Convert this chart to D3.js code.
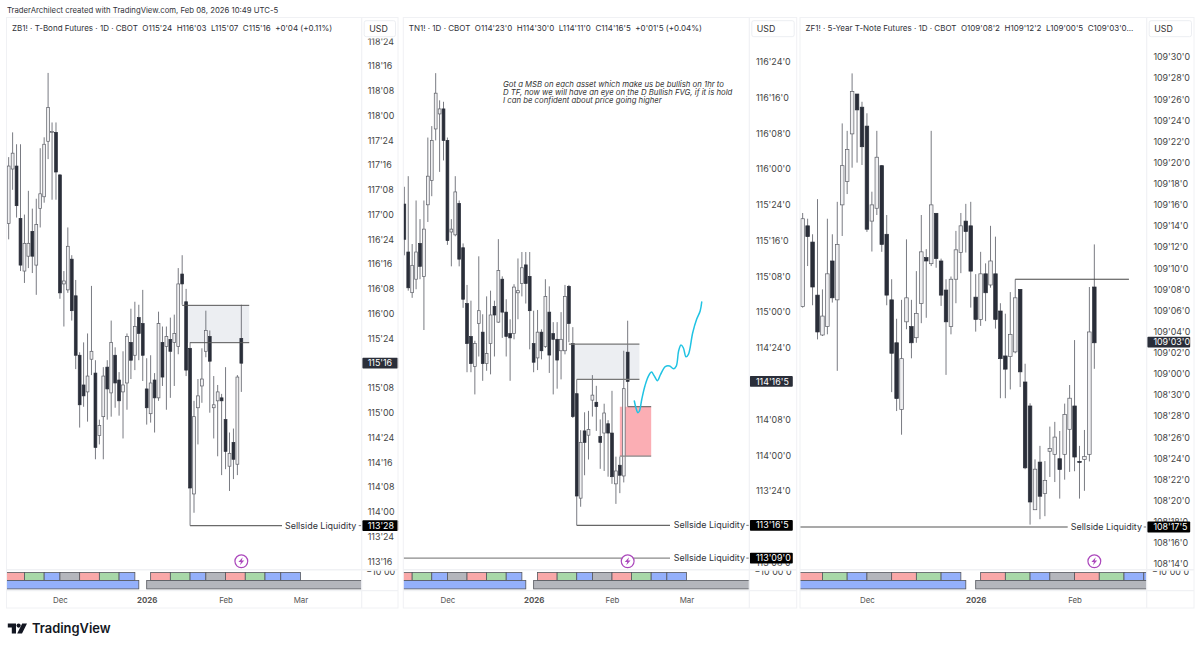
<!DOCTYPE html>
<html>
<head>
<meta charset="utf-8">
<script src="https://cdn.jsdelivr.net/npm/d3@7"></script>
<style>
  html, body { margin: 0; padding: 0; background: #fff; }
  svg { display: block; font-family: Inter, "Noto Sans", sans-serif; }
</style>
</head>
<body>
<svg id="chart" width="1200" height="648"></svg>
<script>
// candles are [open, high, low, close], decimal points
const zbBars = [
  [116.91,117.58,116.75,117.49],[117.46,117.83,117.25,117.62],[117.49,117.71,116.97,117.09],[116.96,117.71,116.43,116.49],
  [116.43,117.00,116.31,116.71],[116.58,117.24,116.46,116.71],[116.83,117.06,116.41,116.58],[116.49,117.16,116.19,116.90],
  [117.06,117.67,116.87,117.21],[117.18,117.78,117.12,117.71],[117.74,118.43,117.56,118.08],[117.83,117.93,117.15,117.84],
  [117.83,117.93,117.15,117.43],[117.40,117.41,116.15,116.21],[116.30,116.43,115.87,116.33],[116.24,116.87,116.21,116.68],
  [116.55,116.59,115.93,116.03],[116.18,116.34,115.44,115.58],[115.58,115.61,114.85,115.08],[115.28,115.71,115.06,115.17],
  [115.21,115.80,114.91,115.37],[115.54,116.28,115.38,115.62],[115.40,115.53,114.53,114.65],[114.77,114.93,114.68,114.87],
  [114.96,115.46,114.53,115.37],[115.46,115.53,114.93,115.24],[115.20,115.93,114.96,115.71],[115.58,115.66,115.05,115.30],
  [115.33,115.41,114.97,115.12],[115.21,115.62,114.74,115.28],[115.30,115.80,115.03,115.77],[115.71,116.05,115.34,115.53],
  [115.58,116.12,115.43,115.87],[115.96,116.09,115.53,115.80],[115.90,116.24,115.32,115.58],[115.24,115.55,114.88,115.05],
  [114.99,115.58,114.90,115.30],[115.33,115.40,114.80,115.15],[115.15,116.02,115.12,115.90],[115.71,115.87,115.27,115.36],
  [115.67,115.87,115.03,115.77],[115.74,115.96,115.15,115.62],[115.71,115.99,115.27,115.80],[115.67,116.46,115.59,116.30],
  [116.40,116.59,116.09,116.30],[116.12,116.25,115.37,115.43],[115.65,115.71,113.86,114.24],[114.18,115.12,113.99,114.96],
  [115.05,115.34,114.68,115.17],[115.27,115.65,115.10,115.34],[115.62,116.03,115.56,115.83],[115.77,115.83,115.00,115.52],
  [115.05,115.37,114.74,115.08],[115.12,115.28,114.56,115.21],[115.15,115.19,114.37,115.12],[114.93,115.46,114.43,114.61],
  [114.46,114.80,114.21,114.59],[114.70,114.84,114.33,114.53],[114.48,115.38,114.37,115.36],[115.75,116.09,115.21,115.50]
];
const tnBars = [
  [115.755,115.876,115.397,115.509],[115.42,115.95,115.15,115.17],[115.136,115.476,115.10,115.327],[115.23,115.78,115.16,115.42],
  [115.48,115.65,115.23,115.32],[115.25,115.78,114.875,115.58],[115.75,116.22,115.63,115.95],[115.92,116.30,115.81,116.20],
  [116.28,116.67,116.20,116.53],[116.385,116.48,115.98,116.42],[116.42,116.47,116.06,116.20],[116.20,116.22,115.47,115.50],
  [115.56,115.65,115.32,115.58],[115.54,115.95,115.53,115.84],[115.76,115.78,115.32,115.37],[115.45,115.48,115.03,115.09],
  [115.06,115.19,114.58,114.78],[114.83,115.08,114.58,114.64],[114.62,114.80,114.425,114.78],[114.92,115.39,114.69,115.01],
  [114.86,114.985,114.52,114.64],[114.64,115.11,114.59,114.71],[114.78,115.15,114.565,114.98],[115.04,115.08,114.69,114.98],
  [114.93,115.51,114.925,115.29],[115.23,115.25,114.82,115.00],[115.00,115.09,114.69,114.83],[114.85,114.95,114.52,114.82],
  [114.85,115.195,114.81,115.175],[115.135,115.375,114.95,115.15],[115.20,115.42,115.11,115.31],[115.33,115.42,115.06,115.20],
  [115.25,115.42,114.74,115.01],[114.78,115.01,114.58,114.65],[114.68,115.015,114.595,114.86],[114.86,114.88,114.67,114.73],
  [114.76,115.23,114.75,115.11],[115.00,115.18,114.575,114.70],[114.85,114.93,114.425,114.81],[114.81,114.93,114.465,114.665],
  [114.73,115.00,114.53,114.81],[114.73,115.19,114.705,115.11],[115.18,115.19,114.79,114.92],[114.78,114.895,114.26,114.27],
  [114.43,114.53,113.51,113.715],[113.70,114.175,113.64,114.09],[114.17,114.30,113.86,114.09],[114.14,114.31,113.97,114.18],
  [114.385,114.56,114.27,114.42],[114.37,114.485,114.17,114.34],[114.13,114.25,113.905,114.09],[114.155,114.36,113.89,114.295],
  [114.22,114.245,113.85,114.155],[114.155,114.45,113.80,113.85],[113.80,113.99,113.66,113.89],[113.93,113.99,113.735,113.86],
  [113.855,114.73,113.81,114.465],[114.72,114.94,114.34,114.516]
];
const zfBars = [
  [109.199,109.476,109.196,109.459],[109.438,109.459,109.319,109.406],[109.390,109.413,109.203,109.257],[109.233,109.517,109.102,109.124],
  [109.115,109.250,109.112,109.171],[109.140,109.459,109.117,109.296],[109.334,109.413,109.211,109.225],[109.219,109.509,109.009,109.383],
  [109.500,109.741,109.408,109.616],[109.569,109.719,109.532,109.664],[109.710,109.889,109.610,109.835],[109.828,109.828,109.625,109.781],
  [109.789,109.805,109.618,109.672],[109.733,109.771,109.420,109.428],[109.452,109.539,109.362,109.500],[109.490,109.719,109.470,109.641],
  [109.616,109.618,109.361,109.383],[109.413,109.470,109.203,109.233],[109.219,109.280,108.946,109.061],[109.092,109.163,108.890,108.927],
  [108.895,109.219,108.820,109.045],[109.154,109.398,109.132,109.225],[109.140,109.219,109.046,109.092],[109.107,109.304,109.092,109.179],
  [109.208,109.470,109.150,109.361],[109.344,109.369,109.166,109.334],[109.326,109.719,109.319,109.500],[109.475,109.476,109.314,109.341],
  [109.334,109.341,109.201,109.233],[109.248,109.280,108.997,109.154],[109.140,109.288,109.117,109.280],[109.280,109.423,109.209,109.367],
  [109.359,109.476,109.298,109.438],[109.452,109.503,109.359,109.421],[109.438,109.509,109.196,109.304],[109.227,109.295,109.125,109.161],
  [109.161,109.361,109.142,109.296],[109.296,109.327,109.156,109.240],[109.263,109.438,109.255,109.334],[109.296,109.406,109.134,109.161],
  [109.186,109.209,108.928,109.045],[109.053,109.178,108.928,109.014],[109.051,109.242,108.954,109.117],[109.065,109.280,109.061,109.225],
  [109.250,109.251,108.961,109.006],[108.976,109.030,108.718,108.722],[108.905,108.913,108.554,108.621],[108.598,108.747,108.598,108.718],
  [108.739,108.787,108.570,108.638],[108.646,108.742,108.579,108.685],[108.771,108.844,108.695,108.779],[108.762,108.858,108.680,108.813],
  [108.749,108.831,108.631,108.717],[108.762,108.912,108.687,108.880],[108.836,108.967,108.710,108.928],[108.905,109.100,108.712,108.754],
  [108.741,108.787,108.631,108.738],[108.747,108.834,108.654,108.756],[108.762,109.257,108.741,109.124],[109.257,109.383,109.015,109.092]
];

// price ticks; the ones fully under a price tag are left out
const zbTicks = ["118'24","118'16","118'08","118'00","117'24","117'16","117'08","117'00","116'24","116'16","116'08","116'00",
  "115'24","115'08","115'00","114'24","114'16","114'08","114'00","113'24","113'16"];
const tnTicks = ["116'24'0","116'16'0","116'08'0","116'00'0","115'24'0","115'16'0","115'08'0","115'00'0","114'24'0",
  "114'08'0","114'00'0","113'24'0","113'08'0"];
const zfTicks = ["109'30'0","109'28'0","109'26'0","109'24'0","109'22'0","109'20'0","109'18'0","109'16'0","109'14'0","109'12'0",
  "109'10'0","109'08'0","109'06'0","109'04'0","109'02'0","109'00'0","108'30'0","108'28'0","108'26'0","108'24'0","108'22'0",
  "108'20'0","108'18'0","108'16'0","108'14'0"];

// time axis, bar index of each label (TN1! runs two bars later than the others)
const zbMonths = [["Dec",13],["2026",35],["Feb",55],["Mar",74]];
const tnMonths = [["Dec",11],["2026",33],["Feb",53],["Mar",72]];
const zfMonths = [["Dec",13],["2026",35],["Feb",55]];

// session boxes in the lower pane, bar index of each edge
const weekEdges = [-20,4,9,13,18,23,28,32,null,36,41,46,50,55,60,65,69,74];
const weekColors = ["#f9a8a8","#a8d8a8","#94b0fb","#b4b6bc"];
const weekStart = [0,1,2,3,0,1,2,null,3,0,1,2,3,0,1,2,2];
const yearEdges = [[-20,33,"#94b0fb"],[35,200,"#b4b6bc"]];

// hand drawn projection on TN1!, [bar index, price]
const tnPath = [[58.7,114.379],[59.1,114.332],[59.6,114.297],[60,114.309],[60.6,114.391],[61.4,114.484],[62.3,114.553],[63.1,114.581],
  [63.7,114.558],[64.6,114.521],[65.4,114.565],[66.6,114.619],[67.7,114.623],[68.7,114.604],[69.4,114.623],[70,114.728],[70.6,114.77],
  [71.2,114.751],[71.9,114.688],[72.5,114.705],[73.6,114.856],[74.6,114.95],[75.5,115.008],[75.9,115.071]];

const note = ["Got a MSB on each asset which make us be bullish on 1hr to",
  "D TF, now we will have an eye on the D Bullish FVG, if it is hold",
  "I can be confident about price going higher"];

const svg = d3.select("#chart");
const INK = "#2a2e39", EDGE = "#f0f1f4", WICK = "#6a6c74";

function parsePrice(s) {
  const p = s.split("'");
  return +p[0] + (+p[1] + (p[2] ? +p[2] / 10 : 0)) / 32;
}

function panel(o) {
  const g = svg.append("g");
  const x = d3.scaleLinear().domain([0, o.bars.length - 1]).range(o.xr);
  const y = d3.scaleLinear().domain(o.yd).range(o.yr);
  const step = (o.xr[1] - o.xr[0]) / (o.bars.length - 1);
  const bw = step * 0.72;

  const clipId = "clip" + o.id;
  svg.append("clipPath").attr("id", clipId).append("rect")
    .attr("x", o.left).attr("y", 18).attr("width", o.axis - o.left).attr("height", 551);
  const subId = "sub" + o.id;
  svg.append("clipPath").attr("id", subId).append("rect")
    .attr("x", o.left).attr("y", 570).attr("width", o.axis - o.left).attr("height", 20);
  const axId = "ax" + o.id;
  svg.append("clipPath").attr("id", axId).append("rect")
    .attr("x", o.axis).attr("y", 38.5).attr("width", o.right - o.axis).attr("height", 531);
  const axSubId = "axsub" + o.id;
  svg.append("clipPath").attr("id", axSubId).append("rect")
    .attr("x", o.axis).attr("y", 570.5).attr("width", o.right - o.axis).attr("height", 19);

  // zones go under the candles
  const plot = g.append("g").attr("clip-path", `url(#${clipId})`);
  plot.selectAll("rect.zone").data(o.zones || []).join("rect")
    .attr("class", "zone")
    .attr("x", d => x(d.from)).attr("width", d => x(d.to) - x(d.from))
    .attr("y", d => y(d.top)).attr("height", d => y(d.bottom) - y(d.top))
    .attr("fill", d => d.fill);

  plot.selectAll("line.wick").data(o.bars).join("line")
    .attr("class", "wick")
    .attr("x1", (d, i) => x(i)).attr("x2", (d, i) => x(i))
    .attr("y1", d => y(d[1])).attr("y2", d => y(d[2]))
    .attr("stroke", WICK).attr("stroke-width", 0.9);

  plot.selectAll("rect.body").data(o.bars).join("rect")
    .attr("class", "body")
    .attr("x", (d, i) => x(i) - bw / 2).attr("width", bw)
    .attr("y", d => y(Math.max(d[0], d[3])))
    .attr("height", d => Math.max(0.8, Math.abs(y(d[0]) - y(d[3]))))
    .attr("fill", d => d[3] < d[0] ? INK : "#f0f0f2")
    .attr("stroke", d => d[3] < d[0] ? INK : "#5c5e66")
    .attr("stroke-width", 0.7);

  plot.selectAll("line.level").data(o.levels || []).join("line")
    .attr("class", "level")
    .attr("x1", d => d.x1 != null ? d.x1 : x(d.from)).attr("x2", d => d.x2 != null ? d.x2 : x(d.to))
    .attr("y1", d => y(d.p)).attr("y2", d => y(d.p))
    .attr("stroke", d => d.c || "#555").attr("stroke-width", d => d.w || 1);

  if (o.path) {
    const line = d3.line().x(d => x(d[0])).y(d => y(d[1])).curve(d3.curveCatmullRom);
    plot.append("path").attr("d", line(o.path)).attr("fill", "none")
      .attr("stroke", "#20c3e3").attr("stroke-width", 1.5).attr("stroke-linecap", "round");
  }

  // Sellside labels
  (o.tags || []).filter(t => t.name).forEach(t => {
    g.append("text").attr("x", t.tx).attr("y", y(t.p)).attr("dy", "0.35em")
      .attr("font-size", 8.95).attr("fill", "#2f3138").text(t.name);
    g.append("line").attr("x1", o.axis - 3).attr("x2", o.axis)
      .attr("y1", y(t.p)).attr("y2", y(t.p)).attr("stroke", "#777");
  });

  // flash icon over last bar
  const fx = x(o.bars.length - 1), fy = 561.3;
  const flash = g.append("g").attr("transform", `translate(${fx},${fy})`);
  flash.append("circle").attr("r", 6.4).attr("fill", "#fff").attr("stroke", "#ab47bc").attr("stroke-width", 1.2);
  flash.append("path").attr("d", "M1.4,-4 L-2.9,0.7 L-0.4,0.7 L-1.4,4 L2.9,-0.7 L0.4,-0.7 Z").attr("fill", "#ab47bc");

  // lower pane boxes
  const sub = g.append("g").attr("clip-path", `url(#${subId})`);
  const off = o.weekOffset;
  const weeks = [];
  weekEdges.forEach((e, i) => {
    if (e === null || weekEdges[i + 1] === null || i === weekEdges.length - 1) return;
    weeks.push({ a: e + off, b: weekEdges[i + 1] + off, c: weekColors[weekStart[i]] });
  });
  sub.selectAll("rect.week").data(weeks).join("rect")
    .attr("class", "week")
    .attr("x", d => x(d.a)).attr("width", d => x(d.b) - x(d.a))
    .attr("y", 572.5).attr("height", 8)
    .attr("fill", d => d.c).attr("stroke", "#55575e").attr("stroke-width", 0.8);
  sub.selectAll("rect.year").data(yearEdges).join("rect")
    .attr("class", "year")
    .attr("x", d => x(d[0] + off)).attr("width", d => x(d[1] + off) - x(d[0] + off))
    .attr("y", 580.5).attr("height", 8.4)
    .attr("fill", d => d[2]).attr("stroke", "#55575e").attr("stroke-width", 0.8);

  // price axis
  const axisG = g.append("g").attr("clip-path", `url(#${axId})`);
  const axisRight = d3.axisRight(y)
    .tickValues(o.ticks.map(parsePrice))
    .tickFormat((d, i) => o.ticks[i])
    .tickSize(0).tickPadding(o.tickPad);
  const ag = axisG.append("g").attr("transform", `translate(${o.axis},0)`).call(axisRight);
  ag.select(".domain").remove();
  ag.selectAll("text").attr("font-size", 8.9).attr("font-family", "Inter").attr("fill", "#444");

  g.append("g").attr("clip-path", `url(#${axSubId})`).append("text")
    .attr("x", o.axis + o.tickPad - 1.5).attr("y", 572).attr("dy", "0.35em")
    .attr("font-size", 8.9).attr("fill", "#444").text(o.subLabel);

  // price tags
  g.selectAll("g.tag").data(o.tags || []).join("g").attr("class", "tag")
    .each(function(t) {
      const s = d3.select(this);
      const yy = y(t.p);
      s.append("rect").attr("x", o.axis + 0.5).attr("y", yy - 5.4)
        .attr("width", o.tagW).attr("height", 10.8).attr("rx", 1)
        .attr("fill", t.fill);
      s.append("text").attr("x", o.axis + o.tickPad).attr("y", yy).attr("dy", "0.35em")
        .attr("font-size", 8.9).attr("fill", "#fff").text(t.label);
    });

  // time axis
  const axisB = d3.axisBottom(x)
    .tickValues(o.months.map(d => d[1]))
    .tickFormat((d, i) => o.months[i][0])
    .tickSize(0).tickPadding(0);
  const bg = g.append("g").attr("transform", "translate(0,597)").call(axisB);
  bg.select(".domain").remove();
  bg.selectAll("text").attr("font-size", 7.9).attr("font-family", "Inter").attr("fill", "#555")
    .attr("font-weight", (d, i) => o.months[i][0] === "2026" ? 700 : 400)
    .attr("y", 0).attr("dy", "0.7em");

  // frame
  g.append("rect").attr("x", o.left).attr("y", 17.5).attr("width", o.right - o.left).attr("height", 590.5)
    .attr("fill", "none").attr("stroke", EDGE).attr("stroke-width", 1);
  g.append("line").attr("x1", o.axis).attr("x2", o.axis).attr("y1", 17.5).attr("y2", 608)
    .attr("stroke", EDGE).attr("stroke-width", 1.2);
  [569.8, 590.6].forEach(v => {
    g.append("line").attr("x1", o.left).attr("x2", o.right).attr("y1", v).attr("y2", v)
      .attr("stroke", EDGE).attr("stroke-width", 1.4);
  });

  // USD button
  g.append("rect").attr("x", o.axis + 2.5).attr("y", 20.7)
    .attr("width", o.right - o.axis - 5).attr("height", 16).attr("rx", 2)
    .attr("fill", "#fff").attr("stroke", "#eceef2");
  g.append("text").attr("x", o.axis + 7.5).attr("y", 28.6).attr("dy", "0.35em")
    .attr("font-size", 8.8).attr("fill", "#333").text("USD");

  // title
  g.append("text").attr("x", o.left + 5.5).attr("y", 27.7).attr("dy", "0.35em")
    .style("white-space", "pre")
    .attr("font-size", o.titleSize).attr("fill", "#2f3138").text(o.title);
}

svg.append("text").attr("x", 7).attr("y", 10).attr("dy", "0.35em")
  .attr("font-size", 7.76).attr("fill", "#2f3138")
  .text("TraderArchilect created with TradingView.com, Feb 08, 2026 10:49 UTC-5");

panel({
  id: "zb", left: 6.5, axis: 361.7, right: 398, xr: [8.67, 241.33], yd: [118.5, 113.5], yr: [66, 561.3],
  bars: zbBars, ticks: zbTicks, months: zbMonths, weekOffset: 0, tickPad: 6, tagW: 36, titleSize: 8, subLabel: "\u221210'00",
  title: "ZB1! \u00b7 T-Bond Futures \u00b7 1D \u00b7 CBOT  O115'24  H116'03  L115'07  C115'16  +0'04 (+0.11%)",
  zones: [{ from: 45, to: 61, top: 116.084, bottom: 115.707, fill: "#eceef2" }],
  levels: [{ from: 44, to: 61, p: 116.084 }, { from: 46, to: 61, p: 115.707 }, { from: 46, x2: 282, p: 113.86, c: "#6a6a6a", w: 1.1 }],
  tags: [{ p: 115.5, label: "115'16", fill: INK }, { p: 113.86, label: "113'28", fill: "#000", name: "Sellside Liquidity", tx: 285 }]
});

panel({
  id: "tn", left: 403.3, axis: 749.3, right: 796.7, xr: [404.33, 627.67], yd: [116.75, 113.75], yr: [61.7, 491],
  bars: tnBars, ticks: tnTicks, months: tnMonths, weekOffset: -2, tickPad: 6.7, tagW: 43, titleSize: 8, subLabel: "\u221210'00'0",
  title: "TN1! \u00b7 1D \u00b7 CBOT  O114'23'0  H114'30'0  L114'11'0  C114'16'5  +0'01'5 (+0.04%)",
  zones: [
    { from: 43, to: 60, top: 114.777, bottom: 114.53, fill: "#eceef2" },
    { from: 55, to: 63, top: 114.339, bottom: 113.994, fill: "#fbaeb4" }
  ],
  levels: [
    { from: 42, to: 60, p: 114.777, c: "#777", w: 1.2 }, { from: 44, to: 60, p: 114.53, c: "#777", w: 1.2 },
    { from: 57, to: 63, p: 114.339, c: "#555", w: 1 }, { from: 55, to: 63, p: 113.994, c: "#888", w: 1.2 },
    { from: 44, x2: 670, p: 113.51, c: "#666", w: 1.1 }, { x1: 403.3, x2: 670, p: 113.281, c: "#8a8a8a", w: 1.4 }
  ],
  path: tnPath,
  tags: [
    { p: 114.516, label: "114'16'5", fill: INK },
    { p: 113.51, label: "113'16'5", fill: "#000", name: "Sellside Liquidity", tx: 673.7 },
    { p: 113.281, label: "113'09'0", fill: "#000", name: "Sellside Liquidity", tx: 673.7 }
  ]
});

panel({
  id: "zf", left: 800, axis: 1146.7, right: 1194, xr: [802.67, 1094.33], yd: [109.9375, 108.4375], yr: [57, 564],
  bars: zfBars, ticks: zfTicks, months: zfMonths, weekOffset: 0, tickPad: 6.7, tagW: 43, titleSize: 8, subLabel: "\u221210'00'0",
  title: "ZF1! \u00b7 5-Year T-Note Futures \u00b7 1D \u00b7 CBOT  O109'08'2  H109'12'2  L109'00'5  C109'03'0...",
  levels: [{ from: 43, to: 66, p: 109.28, c: "#444" }, { x1: 800, x2: 1067.7, p: 108.547, c: "#555", w: 1.1 }],
  tags: [{ p: 109.094, label: "109'03'0", fill: INK }, { p: 108.547, label: "108'17'5", fill: "#000", name: "Sellside Liquidity", tx: 1070.7 }]
});

// note on the middle chart
svg.append("g").selectAll("text").data(note).join("text")
  .attr("x", 503).attr("y", (d, i) => 84.6 + i * 7.85).attr("dy", "0.35em")
  .attr("font-size", 7.76).attr("font-style", "italic").attr("fill", "#333").text(d => d);

// TradingView mark
const logo = svg.append("g").attr("fill", "#131722");
logo.append("path").attr("d", "M7.8,623.5 H16 V633.6 H11.8 V627.6 H7.8 Z M27,623.5 L22,633.6 H17.2 L22.2,623.5 Z");
logo.append("circle").attr("cx", 18.6).attr("cy", 625.6).attr("r", 2.1);
logo.append("text").attr("x", 32).attr("y", 628.5).attr("dy", "0.36em")
  .attr("font-size", 12.9).attr("font-weight", 600).text("TradingView");
</script>
</body>
</html>
